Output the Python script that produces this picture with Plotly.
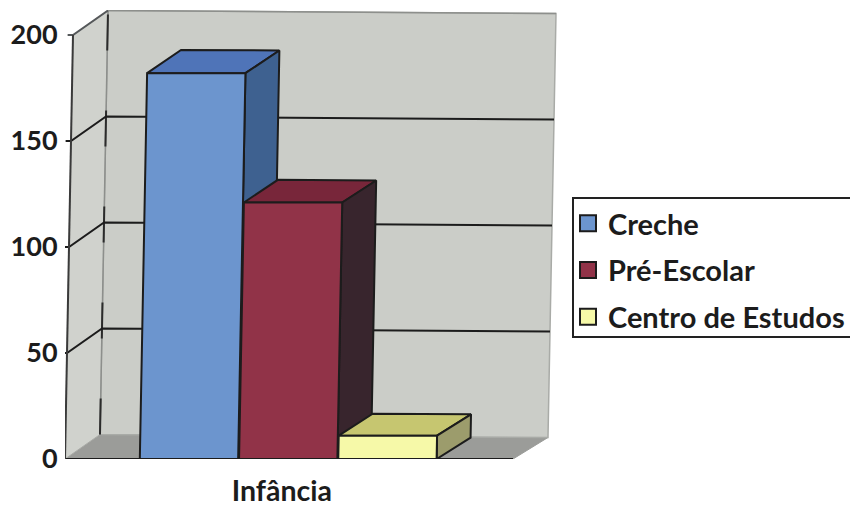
import plotly.graph_objects as go

categories = ["Infância"]
series_names = ["Creche", "Pré-Escolar", "Centro de Estudos"]
series_values = [182, 121, 11]
y_ticks = [0, 50, 100, 150, 200]

FONT = "Lato"
INK = "#1c1c1c"
FRONT = ["#6C95CE", "#913348", "#F6F9A8"]
TOP = ["#4F74B8", "#78263A", "#C6C670"]
SIDE = ["#3E6190", "#38252D", "#9C9C6C"]
WALL_BACK = "#CBCDC8"
WALL_SIDE = "#D0D2CD"
FLOOR = "#9B9C99"

# oblique projection of the 3D box onto the flat axes
SHEAR = 8 / 448 / 200
DX = 35 / 448
DY = 24.5 / 2.12
TILT = 1.4


def proj(u, v, d=0.0):
    return u + SHEAR * v + DX * d, v + DY * d - TILT * u * d


fig = go.Figure()


def poly(points, fill, line=INK, width=2):
    pts = [proj(*p) for p in points]
    pts.append(pts[0])
    fig.add_trace(go.Scatter(
        x=[p[0] for p in pts], y=[p[1] for p in pts], mode="lines",
        fill="toself", fillcolor=fill, line=dict(color=line, width=width),
        showlegend=False, hoverinfo="skip"))


def seg(points, color=INK, width=2, dash="solid"):
    pts = [proj(*p) for p in points]
    fig.add_trace(go.Scatter(
        x=[p[0] for p in pts], y=[p[1] for p in pts], mode="lines",
        line=dict(color=color, width=width, dash=dash),
        showlegend=False, hoverinfo="skip"))


top_v = y_ticks[-1]
# walls and floor
poly([(0, 0, 0), (1, 0, 0), (1, 0, 1), (0, 0, 1)], FLOOR, line=FLOOR, width=1)
poly([(0, 0, 1), (1, 0, 1), (1, top_v, 1), (0, top_v, 1)], WALL_BACK, line="#A9ABA7", width=1.5)
poly([(0, 0, 0), (0, 0, 1), (0, top_v, 1), (0, top_v, 0)], WALL_SIDE, line="#A9ABA7", width=1)
seg([(0, 0, 1), (0, top_v, 1)], color="#8d8f8c", width=1.5)
seg([(0, 0, 1), (0, top_v, 1)], color="#2b2b2b", width=2, dash="36px,60px")

# gridlines and tick marks on the walls
for t in y_ticks:
    if t == 0:
        seg([(-0.012, t, 0), (1, t, 0)], width=2.2)
        continue
    seg([(-0.012, t, 0), (0, t, 0), (0, t, 1)] + ([(1, t, 1)] if t != top_v else []),
        color=INK if t != top_v else "#55585a")
seg([(0, 0, 0), (0, top_v, 0)], color="#3a3a3a", width=2)
seg([(0, top_v, 1), (1, top_v, 1)], color="#8d8f8c", width=1.5)

# bars
BAR_START = 0.167
BAR_STEP = 0.2215
BAR_W = 0.2195
BAR_D = 0.97
for i, v in enumerate(series_values):
    a = BAR_START + i * BAR_STEP
    b = a + BAR_W
    poly([(a, v, 0), (b, v, 0), (b, v, BAR_D), (a, v, BAR_D)], TOP[i])
    poly([(b, 0, 0), (b, v, 0), (b, v, BAR_D), (b, 0, BAR_D)], SIDE[i])
    poly([(a, 0, 0), (b, 0, 0), (b, v, 0), (a, v, 0)], FRONT[i])

# legend entries
for i, name in enumerate(series_names):
    fig.add_trace(go.Scatter(
        x=[None], y=[None], mode="markers", name=name, legendgroup=name,
        marker=dict(symbol="square", size=16, color=FRONT[i],
                    line=dict(color=INK, width=2))))

W, H, L, R, T, B = 850, 508, 65, 285, 10, 49
plot_w = W - L - R
plot_h = H - T - B


def paper_x(px):
    return (px - L) / plot_w


def paper_y(px):
    return 1 - (px - T) / plot_h


fig.update_layout(
    width=W, height=H,
    margin=dict(l=L, r=R, t=T, b=B, autoexpand=False),
    paper_bgcolor="white", plot_bgcolor="white",
    font=dict(family=FONT, size=25, color=INK),
    xaxis=dict(range=[0, plot_w / 448], tickvals=[0.484], ticktext=categories,
               showgrid=False, zeroline=False, showline=False,
               ticks="outside", ticklen=7, tickcolor="rgba(0,0,0,0)",
               tickfont=dict(family=FONT, size=28.5, weight="bold", color=INK)),
    yaxis=dict(range=[0, plot_h / 2.12], tickvals=y_ticks,
               showgrid=False, zeroline=False, showline=False,
               ticks="outside", ticklen=1, tickcolor="rgba(0,0,0,0)",
               tickfont=dict(family=FONT, size=27, weight="bold", color=INK)),
    legend=dict(x=568 / W, y=1 - 198 / H, xref="container", yref="container",
                xanchor="left", yanchor="top", bgcolor="rgba(0,0,0,0)",
                borderwidth=0, tracegroupgap=6,
                font=dict(family=FONT, size=29, weight="bold", color=INK),
                itemwidth=30),
    shapes=[dict(type="rect", xref="paper", yref="paper", layer="below",
                 x0=paper_x(573), x1=paper_x(856), y0=paper_y(337), y1=paper_y(198),
                 line=dict(color="#222222", width=2), fillcolor="white")],
)

fig.write_html("out.html", config={"displayModeBar": False},
               post_script="document.body.style.margin='0';")
